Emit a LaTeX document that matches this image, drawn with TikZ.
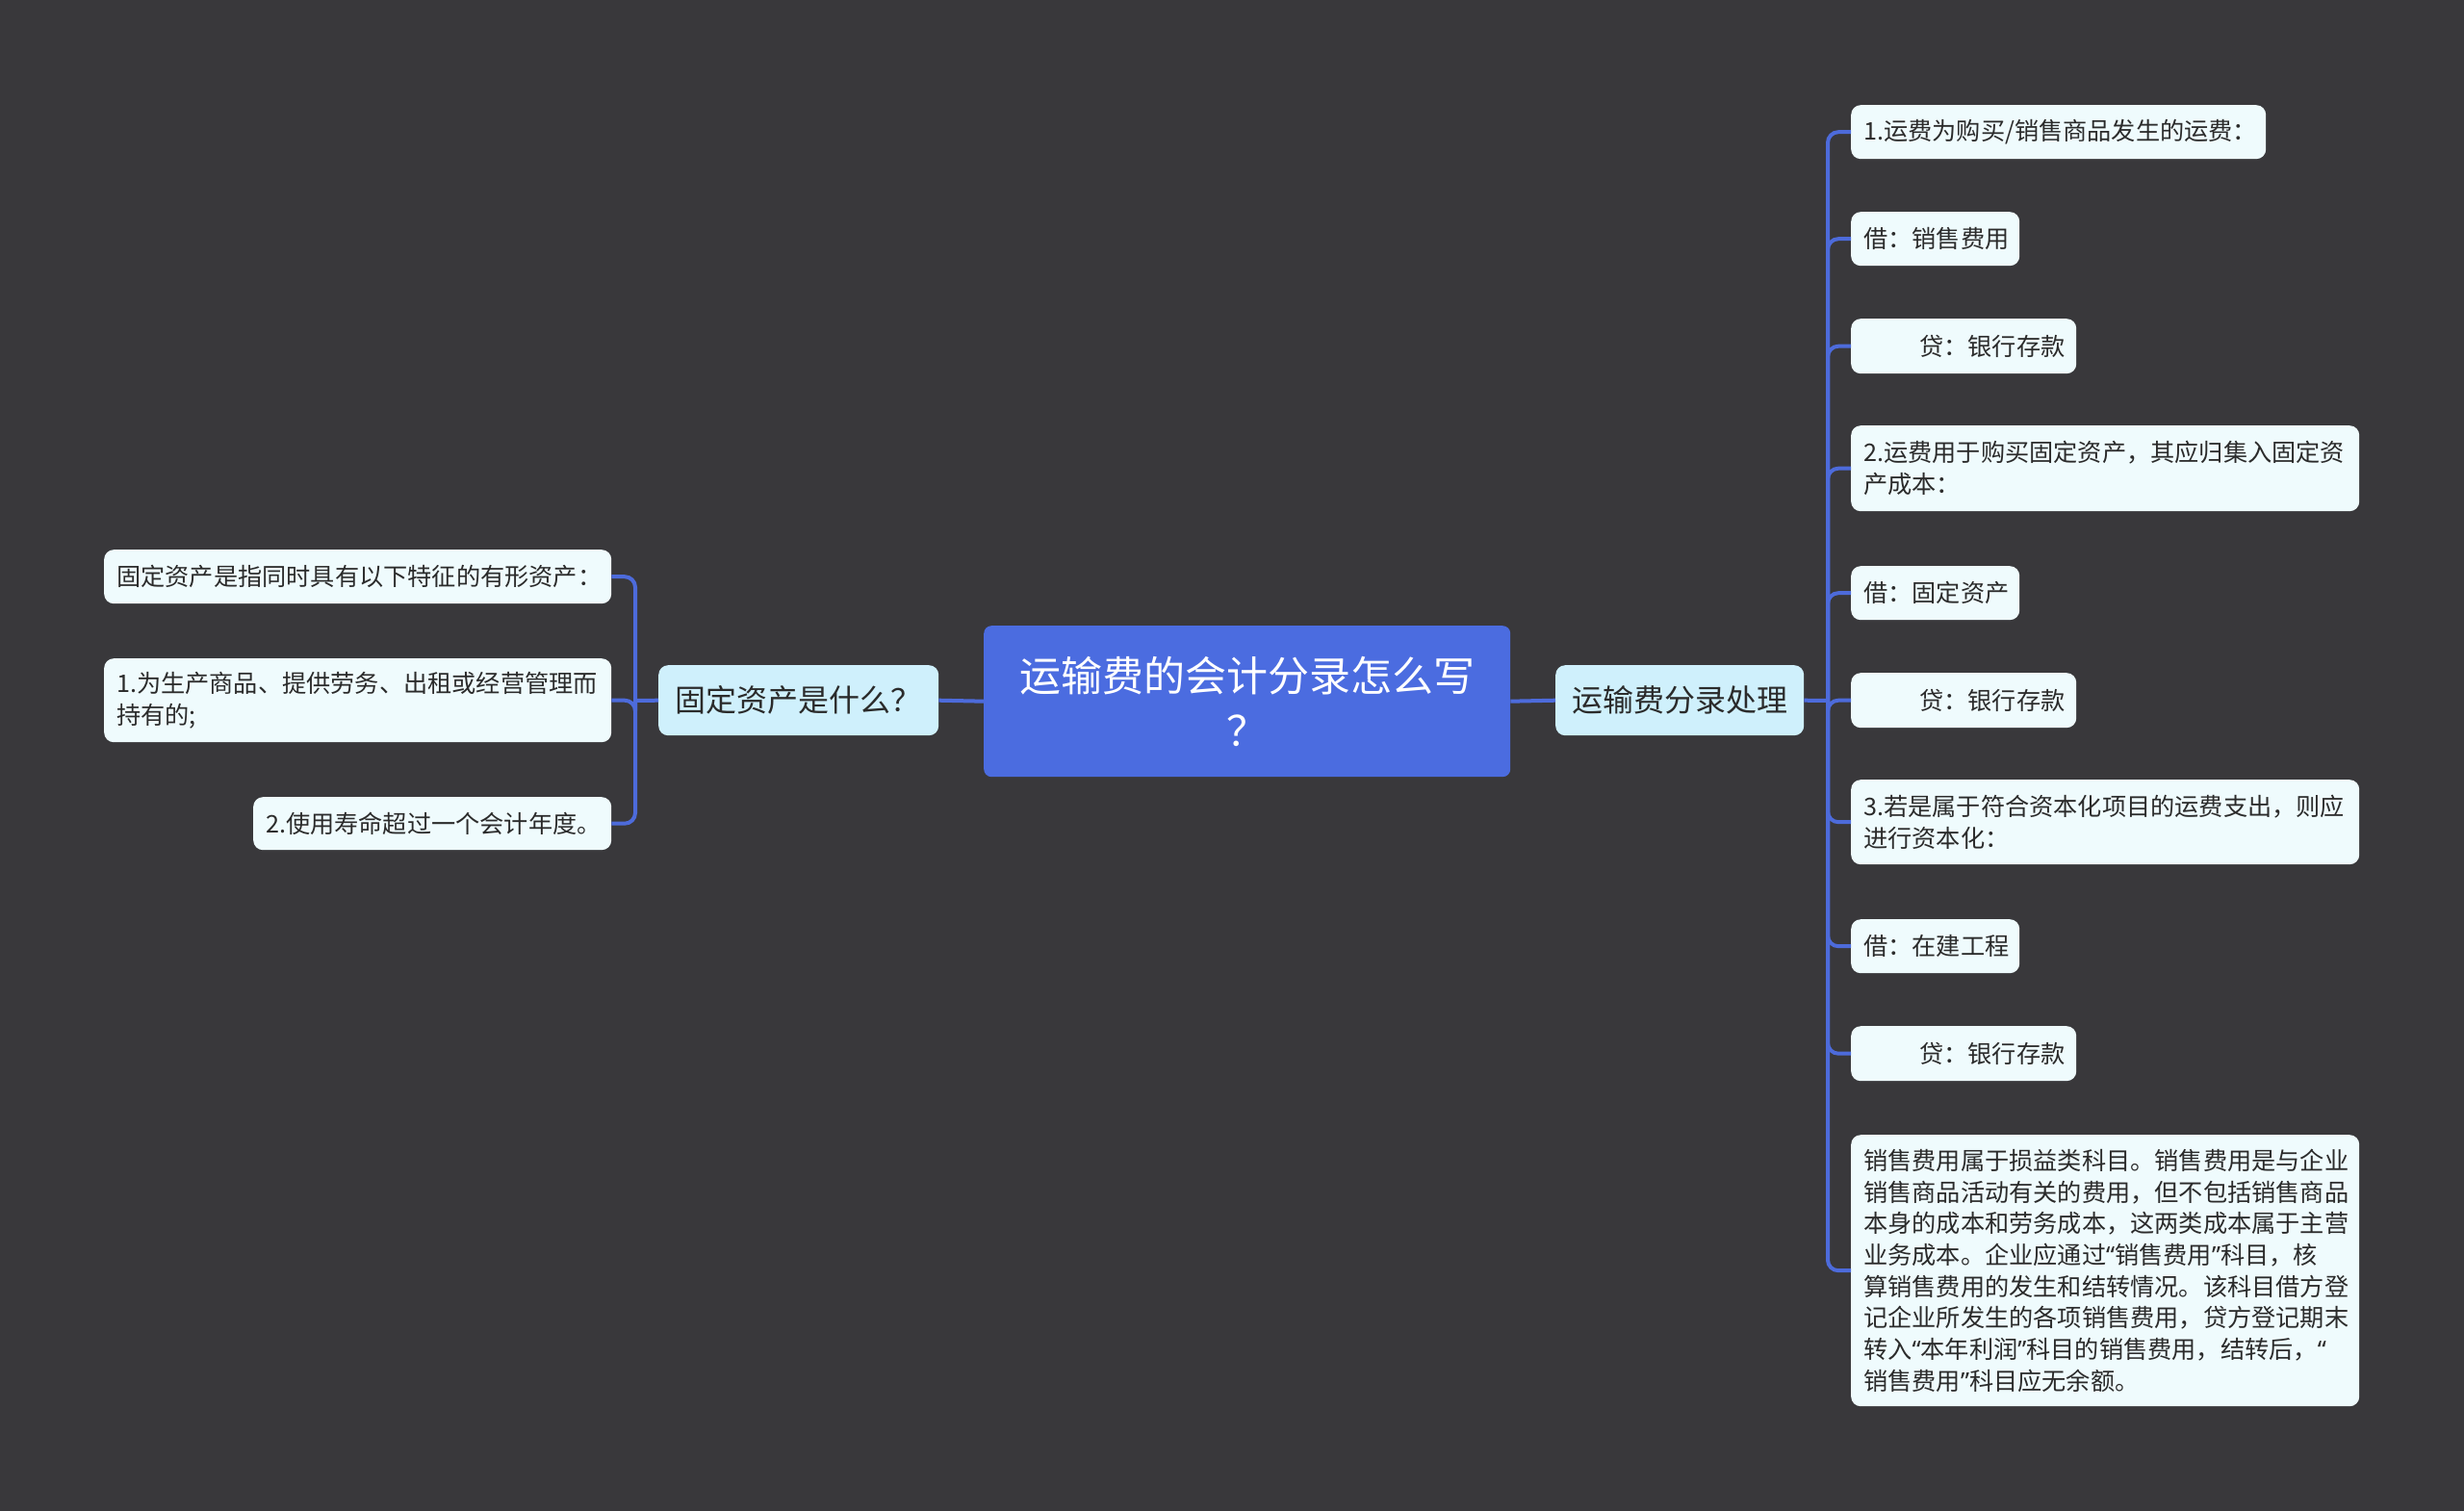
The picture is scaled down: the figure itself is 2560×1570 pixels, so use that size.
\documentclass[tikz,border=0pt]{standalone}
\usepackage{fontspec}
\setmainfont{Noto Sans CJK SC}
\newfontfamily\qfont{Noto Sans}
\newcommand{\myoq}{{\qfont “}}
\newcommand{\mycq}{{\qfont ”}}
\definecolor{bg}{HTML}{39383B}
\definecolor{rootblue}{HTML}{4B6CE0}
\definecolor{branchfill}{HTML}{CFF0FC}
\definecolor{leaffill}{HTML}{EFFBFD}
\definecolor{linkblue}{HTML}{4D6BDB}
\definecolor{darktext}{HTML}{2B2B2B}
\begin{document}
\begin{tikzpicture}[x=1pt,y=-1pt,
  leaf/.style={fill=leaffill, rounded corners=10, text=darktext,
    font=\fontsize{25.2}{32.7}\selectfont, align=left,
    inner xsep=13, inner ysep=4, anchor=north west},
  branch/.style={fill=branchfill, rounded corners=10, text=darktext,
    font=\fontsize{32}{40}\selectfont, align=center,
    inner sep=2, anchor=north west},
  rootbox/.style={fill=rootblue, rounded corners=8, text=white,
    font=\fontsize{43}{57}\selectfont, align=center,
    inner sep=2, anchor=north west},
  link/.style={draw=linkblue, line width=4},
  clink/.style={draw=linkblue, line width=4, rounded corners=11}
]
\fill[bg] (0,0) rectangle (2560,1570);
\useasboundingbox (0,0) rectangle (2560,1570);

% root and branches
\node[rootbox, minimum width=547, minimum height=157] (root) at (1022,650)
  {运输费的会计分录怎么写\\？};
\node[branch, minimum width=291, minimum height=73] (lb) at (684,691) {固定资产是什么？};
\node[branch, minimum width=258, minimum height=73] (rb) at (1616,691) {运输费分录处理};

% left leaves
\node[leaf, text width=501, minimum height=56] (l1) at (108,571)
  {固定资产是指同时具有以下特征的有形资产：};
\node[leaf, text width=501, minimum height=87] (l2) at (108,684)
  {1.为生产商品、提供劳务、出租或经营管理而\\持有的;};
\node[leaf, text width=346, minimum height=55] (l3) at (263,828)
  {2.使用寿命超过一个会计年度。};

% right leaves
\node[leaf, text width=405, minimum height=56] (r1) at (1923,109)
  {1.运费为购买/销售商品发生的运费：};
\node[leaf, text width=149, minimum height=56] (r2) at (1923,220) {借：销售费用};
\node[leaf, text width=208, minimum height=57] (r3) at (1923,331)
  {\hspace*{58pt}贷：银行存款};
\node[leaf, text width=502, minimum height=89] (r4) at (1923,442)
  {2.运费用于购买固定资产，其应归集入固定资\\产成本：};
\node[leaf, text width=149, minimum height=56] (r5) at (1923,588) {借：固定资产};
\node[leaf, text width=208, minimum height=57] (r6) at (1923,699)
  {\hspace*{58pt}贷：银行存款};
\node[leaf, text width=502, minimum height=88] (r7) at (1923,810)
  {3.若是属于符合资本化项目的运费支出，则应\\进行资本化：};
\node[leaf, text width=149, minimum height=56] (r8) at (1923,955) {借：在建工程};
\node[leaf, text width=208, minimum height=57] (r9) at (1923,1066)
  {\hspace*{58pt}贷：银行存款};
\node[leaf, text width=502, minimum height=282] (r10) at (1923,1179)
  {销售费用属于损益类科目。销售费用是与企业\\
   销售商品活动有关的费用，但不包括销售商品\\
   本身的成本和劳务成本，这两类成本属于主营\\
   业务成本。企业应通过\myoq 销售费用\mycq 科目，核\\
   算销售费用的发生和结转情况。该科目借方登\\
   记企业所发生的各项销售费用，贷方登记期末\\
   转入\myoq 本年利润\mycq 科目的销售费用，结转后，\myoq\\
   销售费用\mycq 科目应无余额。};

% junctions
\coordinate (jl) at (660,728);
\coordinate (jr) at (1899,728);

% connectors
\draw[link] (root.west) -- (lb.east);
\draw[link] (root.east) -- (rb.west);
\draw[link] (lb.west) -- (jl);
\draw[link] (rb.east) -- (jr);
\foreach \n in {l1,l2,l3} {\draw[clink] (jl) |- (\n.east);}
\foreach \n in {r1,r2,r3,r4,r5,r6,r7,r8,r9,r10} {\draw[clink] (jr) |- (\n.west);}
\end{tikzpicture}
\end{document}
